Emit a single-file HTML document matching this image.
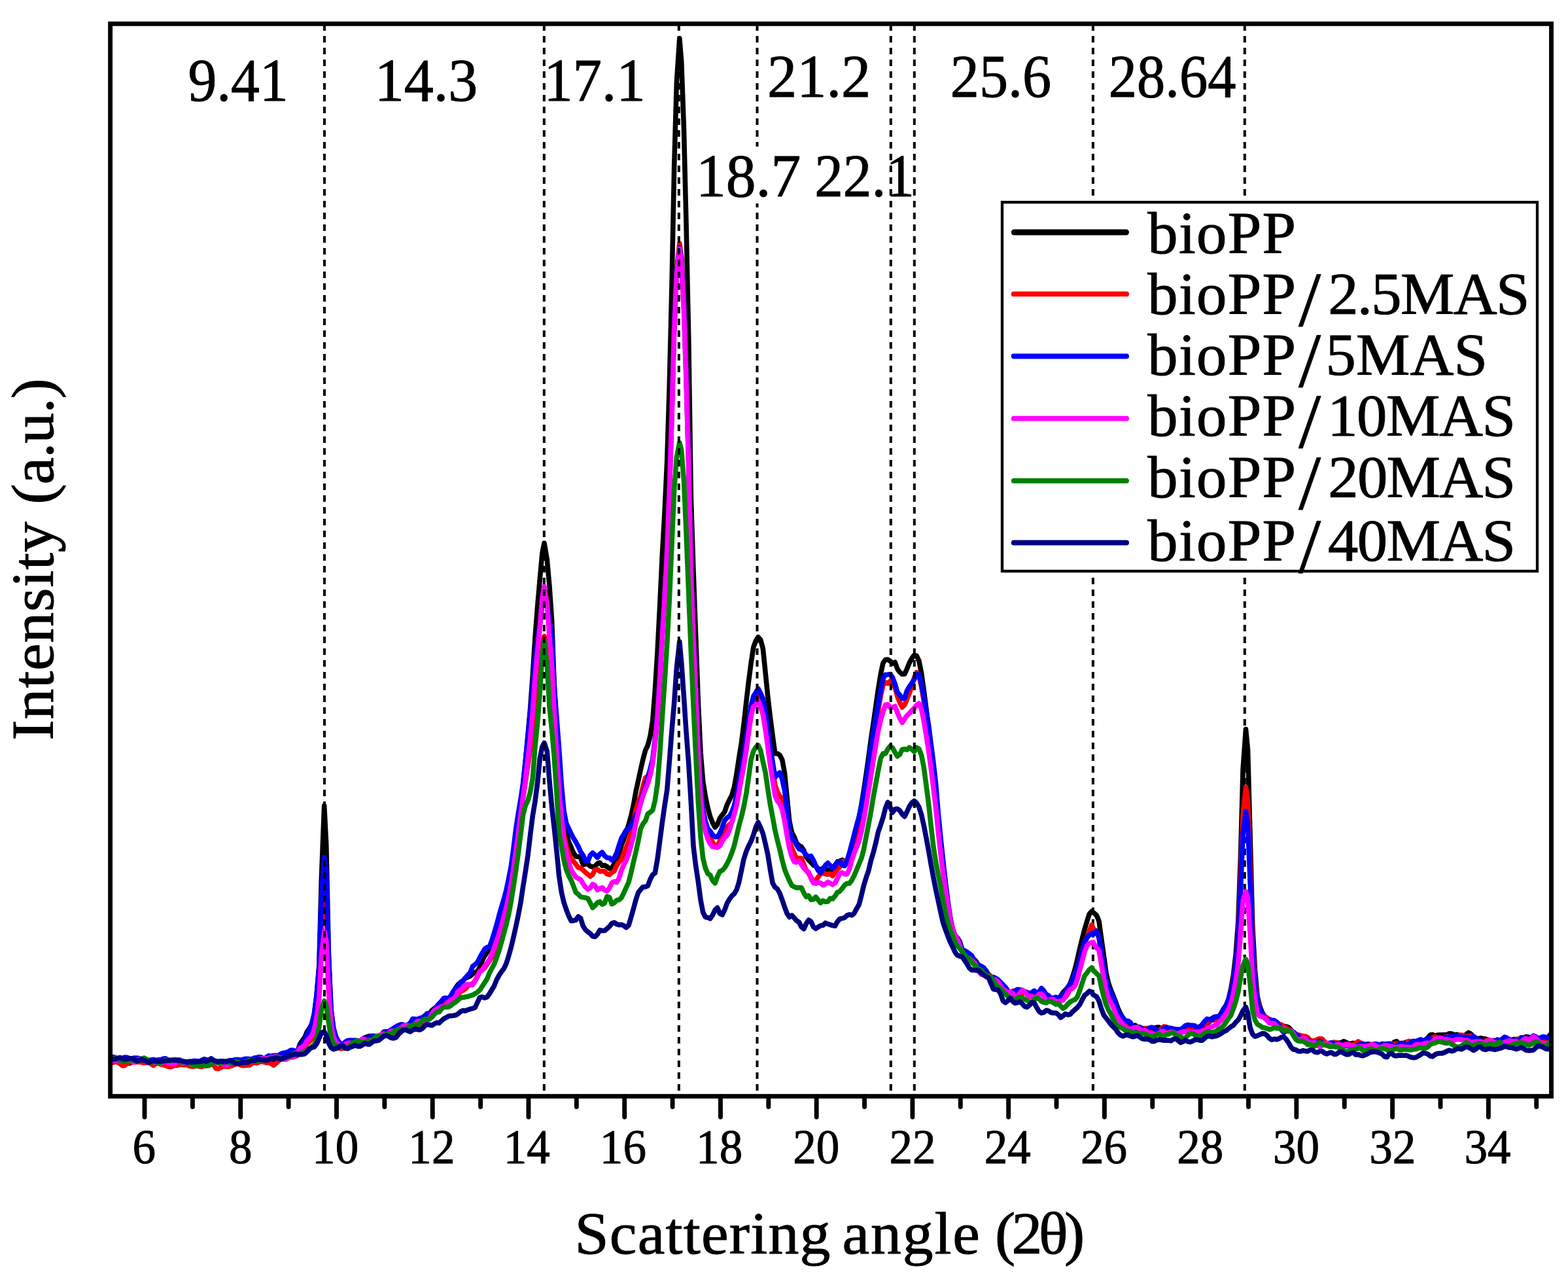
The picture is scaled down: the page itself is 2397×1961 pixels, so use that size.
<!DOCTYPE html>
<html lang="en">
<head>
<meta charset="utf-8">
<title>XRD patterns of bioPP / MAS composites</title>
<style>
html,body{margin:0;padding:0;background:#fff;}
body{width:2397px;height:1961px;overflow:hidden;}
svg{display:block;}
</style>
</head>
<body>
<svg width="2397" height="1961" viewBox="0 0 2397 1961" font-family='"Liberation Serif", "DejaVu Serif", serif' fill="#000">
<rect width="2397" height="1961" fill="#fff"/>
<g id="peak-guides-back" stroke="#000" stroke-width="4" stroke-dasharray="10 8" fill="none">
<line x1="1670.9" y1="37" x2="1670.9" y2="1675.6"/>
<line x1="1902.8" y1="37" x2="1902.8" y2="1675.6"/>
</g>
<g id="curves" fill="none" stroke-width="7.6" stroke-linejoin="round" stroke-linecap="butt">
<polyline stroke="#000000" points="168.6,1621.6 172.3,1619.7 175.9,1617.7 179.6,1618.9 183.3,1621.1 186.9,1621.2 190.6,1621.9 194.3,1624.7 197.9,1625.2 201.6,1623.6 205.3,1622.6 209.0,1618.6 212.6,1618.2 216.3,1621.5 220.0,1622.6 223.6,1623.4 227.3,1623.7 231.0,1623.5 234.6,1624.0 238.3,1623.0 242.0,1621.7 245.6,1623.3 249.3,1625.4 253.0,1626.1 256.6,1623.9 260.3,1623.7 264.0,1624.1 267.6,1625.6 271.3,1627.5 275.0,1626.6 278.7,1625.3 282.3,1626.0 286.0,1626.2 289.7,1624.9 293.3,1626.0 297.0,1628.5 300.7,1628.1 304.3,1626.3 308.0,1625.1 311.7,1624.5 315.3,1624.2 319.0,1626.4 322.7,1626.7 326.3,1625.3 330.0,1623.5 333.7,1624.0 337.4,1625.7 341.0,1625.6 344.7,1625.1 348.4,1626.0 352.0,1626.1 355.7,1624.0 359.4,1622.8 363.0,1622.0 366.7,1622.3 370.4,1624.2 374.0,1624.5 377.7,1622.8 381.4,1620.3 385.0,1619.7 388.7,1620.4 392.4,1620.3 396.0,1620.0 399.7,1619.6 403.4,1621.3 407.1,1623.0 410.7,1622.9 414.4,1621.4 418.1,1619.1 421.7,1617.9 425.4,1616.6 429.1,1616.0 432.7,1614.2 436.4,1612.6 440.1,1612.6 443.7,1613.4 447.4,1612.5 451.1,1610.0 454.7,1607.1 458.4,1596.2 462.1,1590.6 465.7,1585.9 469.4,1577.0 473.1,1571.8 476.8,1564.7 480.4,1549.5 484.1,1521.8 487.8,1476.4 491.4,1341.9 495.7,1231.5 498.8,1292.3 502.4,1458.7 506.1,1544.7 509.8,1573.2 513.4,1587.0 517.1,1593.7 520.8,1596.4 524.4,1598.0 528.1,1596.7 531.8,1596.8 535.4,1598.4 539.1,1596.4 542.8,1591.4 546.5,1591.2 550.1,1591.8 553.8,1588.3 557.5,1586.1 561.1,1584.7 564.8,1583.6 568.5,1584.0 572.1,1586.3 575.8,1588.2 579.5,1587.0 583.1,1581.8 586.8,1577.1 590.5,1576.9 594.1,1576.7 597.8,1575.8 601.5,1572.8 605.2,1569.6 608.8,1569.0 612.5,1566.1 616.2,1566.4 619.8,1568.2 623.5,1568.7 627.2,1566.5 630.8,1560.9 634.5,1561.2 638.2,1561.2 641.8,1558.5 645.5,1556.0 649.2,1552.7 652.8,1552.2 656.5,1549.6 660.2,1544.4 663.8,1541.4 667.5,1539.5 671.2,1537.6 674.9,1537.0 678.5,1534.7 682.2,1532.8 685.9,1528.9 689.5,1522.2 693.2,1515.6 696.9,1509.4 700.5,1504.5 704.2,1501.3 707.9,1498.9 711.5,1495.0 715.2,1493.7 718.9,1491.9 722.5,1488.3 726.2,1486.3 729.9,1484.7 733.5,1478.4 737.2,1468.1 740.9,1461.0 744.6,1455.6 748.2,1451.2 751.9,1446.7 755.6,1437.3 759.2,1426.2 762.9,1412.9 766.6,1396.6 770.2,1382.6 773.9,1370.1 777.6,1355.6 781.2,1336.0 784.9,1310.9 788.6,1283.4 792.2,1257.1 795.9,1230.1 799.6,1199.4 803.3,1163.4 806.9,1125.5 810.6,1083.2 814.3,1032.8 817.9,975.5 821.6,927.7 825.3,885.1 828.9,845.5 832.0,830.0 836.3,855.2 839.9,895.2 843.6,948.4 847.3,1047.7 850.9,1107.4 854.6,1161.4 858.3,1214.5 861.9,1252.2 865.6,1272.7 869.3,1286.7 873.0,1294.7 876.6,1303.4 880.3,1309.1 884.0,1309.3 887.6,1311.0 891.3,1321.4 895.0,1320.9 898.6,1320.3 902.3,1324.0 906.0,1325.0 909.6,1323.8 913.3,1319.9 917.0,1318.5 920.6,1323.2 924.3,1322.6 928.0,1324.6 931.6,1327.6 935.3,1326.8 939.0,1320.3 942.7,1314.1 946.3,1304.1 950.0,1291.5 953.7,1282.3 957.3,1272.3 961.0,1260.6 964.7,1247.3 968.3,1230.9 972.0,1210.1 975.7,1193.2 979.3,1176.5 983.0,1160.4 986.7,1146.6 990.3,1139.3 994.0,1125.0 997.7,1101.5 1001.3,1055.8 1005.0,997.1 1008.7,924.7 1012.4,847.3 1016.0,783.6 1019.7,704.7 1023.4,584.6 1027.0,435.8 1030.7,253.2 1034.4,125.2 1038.8,58.5 1041.7,93.7 1045.4,195.1 1049.0,341.8 1052.7,516.2 1056.4,761.8 1060.0,871.8 1063.7,973.6 1067.4,1073.7 1071.1,1150.7 1074.7,1194.8 1078.4,1217.5 1082.1,1235.2 1085.7,1248.4 1089.4,1257.6 1093.1,1264.4 1096.7,1260.2 1100.4,1250.7 1104.1,1245.6 1107.7,1241.0 1111.4,1230.2 1115.1,1222.6 1118.7,1215.7 1122.4,1203.2 1126.1,1182.5 1129.7,1158.2 1133.4,1135.5 1137.1,1106.4 1140.8,1072.8 1144.4,1042.0 1148.1,1013.7 1151.8,989.3 1155.4,979.4 1159.0,973.7 1162.8,978.1 1166.4,991.8 1170.1,1027.9 1173.8,1065.2 1177.4,1095.7 1181.1,1124.3 1184.8,1151.8 1188.4,1151.7 1192.1,1154.1 1195.8,1161.5 1199.4,1180.9 1203.1,1217.9 1206.8,1255.3 1210.5,1272.6 1214.1,1279.0 1217.8,1288.7 1221.5,1292.4 1225.1,1294.2 1228.8,1299.9 1232.5,1309.6 1236.1,1314.6 1239.8,1318.3 1243.5,1322.4 1247.1,1324.2 1250.8,1328.0 1254.5,1329.9 1258.1,1326.8 1261.8,1327.6 1265.5,1329.9 1269.1,1331.7 1272.8,1328.7 1276.5,1322.4 1280.2,1317.5 1283.8,1316.0 1287.5,1314.4 1291.2,1317.1 1294.8,1316.5 1298.5,1308.1 1302.2,1293.1 1305.8,1277.9 1309.5,1264.3 1313.2,1249.7 1316.8,1230.3 1320.5,1207.5 1324.2,1182.7 1327.8,1157.6 1331.5,1129.7 1335.2,1104.7 1338.9,1079.0 1342.5,1053.8 1346.2,1030.9 1349.9,1013.4 1353.5,1008.3 1357.2,1008.1 1360.9,1010.4 1364.5,1014.1 1368.2,1012.2 1371.9,1022.5 1375.5,1027.4 1379.2,1030.5 1382.9,1030.3 1386.5,1022.2 1390.2,1013.1 1393.9,1006.2 1397.5,1001.4 1401.2,1002.5 1404.9,1010.2 1408.6,1029.1 1412.2,1054.2 1415.9,1083.3 1419.6,1117.2 1423.2,1152.1 1426.9,1188.1 1430.6,1226.5 1434.2,1263.9 1437.9,1296.5 1441.6,1325.2 1445.2,1353.3 1448.9,1379.7 1452.6,1403.8 1456.2,1420.9 1459.9,1429.2 1463.6,1433.4 1467.2,1439.3 1470.9,1451.0 1474.6,1459.9 1478.3,1462.6 1481.9,1464.6 1485.6,1463.9 1489.3,1466.5 1492.9,1470.2 1496.6,1477.0 1500.3,1480.9 1503.9,1480.7 1507.6,1483.7 1511.3,1490.8 1514.9,1498.4 1518.6,1498.4 1522.3,1499.5 1525.9,1503.6 1529.6,1507.6 1533.3,1509.3 1537.0,1509.8 1540.6,1514.6 1544.3,1520.5 1548.0,1519.5 1551.6,1516.0 1555.3,1514.1 1559.0,1515.7 1562.6,1516.0 1566.3,1515.6 1570.0,1516.8 1573.6,1518.2 1577.3,1521.0 1581.0,1522.0 1584.6,1520.8 1588.3,1518.8 1592.0,1514.7 1595.6,1515.6 1599.3,1521.3 1603.0,1525.4 1606.7,1528.7 1610.3,1529.1 1614.0,1527.7 1617.7,1526.4 1621.3,1522.7 1625.0,1517.0 1628.7,1513.2 1632.3,1509.3 1636.0,1503.2 1639.7,1492.8 1643.3,1481.1 1647.0,1466.1 1650.7,1449.6 1654.3,1435.0 1658.0,1420.6 1661.7,1408.1 1665.3,1397.0 1669.0,1392.9 1671.0,1394.2 1676.4,1399.1 1680.0,1407.8 1683.7,1434.8 1687.4,1461.1 1691.0,1487.4 1694.7,1503.3 1698.4,1513.8 1702.0,1522.1 1705.7,1532.0 1709.4,1542.1 1713.0,1549.6 1716.7,1556.0 1720.4,1560.2 1724.0,1564.3 1727.7,1568.1 1731.4,1569.5 1735.0,1567.1 1738.7,1569.2 1742.4,1572.9 1746.1,1573.3 1749.7,1571.7 1753.4,1571.7 1757.1,1572.5 1760.7,1572.6 1764.4,1571.4 1768.1,1570.4 1771.7,1570.1 1775.4,1572.4 1779.1,1574.5 1782.7,1573.4 1786.4,1575.9 1790.1,1577.8 1793.7,1577.0 1797.4,1577.5 1801.1,1575.7 1804.8,1575.3 1808.4,1572.5 1812.1,1570.4 1815.8,1573.5 1819.4,1575.9 1823.1,1573.8 1826.8,1572.7 1830.4,1570.7 1834.1,1569.0 1837.8,1568.0 1841.4,1565.3 1845.1,1564.0 1848.8,1562.0 1852.4,1556.8 1856.1,1554.7 1859.8,1556.0 1863.4,1555.5 1867.1,1548.3 1870.8,1541.4 1874.5,1536.2 1878.1,1527.6 1881.8,1510.8 1885.5,1489.8 1889.1,1459.3 1892.8,1409.2 1896.5,1310.1 1900.1,1175.5 1904.5,1114.5 1907.5,1145.8 1911.1,1276.5 1914.8,1416.3 1918.5,1482.9 1922.1,1522.8 1925.8,1537.9 1929.5,1547.7 1933.1,1553.2 1936.8,1556.6 1940.5,1558.3 1944.2,1560.1 1947.8,1561.9 1951.5,1562.1 1955.2,1565.1 1958.8,1568.4 1962.5,1568.4 1966.2,1569.0 1969.8,1570.3 1973.5,1573.9 1977.2,1579.9 1980.8,1582.8 1984.5,1585.7 1988.2,1586.3 1991.8,1585.8 1995.5,1586.6 1999.2,1588.6 2002.8,1590.4 2006.5,1591.7 2010.2,1591.2 2013.9,1592.4 2017.5,1593.3 2021.2,1592.8 2024.9,1593.2 2028.5,1594.6 2032.2,1594.9 2035.9,1594.1 2039.5,1593.5 2043.2,1593.6 2046.9,1594.5 2050.5,1593.3 2054.2,1591.6 2057.9,1593.3 2061.5,1595.5 2065.2,1595.0 2068.9,1594.2 2072.6,1595.9 2076.2,1597.0 2079.9,1597.6 2083.6,1597.9 2087.2,1596.2 2090.9,1595.9 2094.6,1596.1 2098.2,1597.7 2101.9,1598.5 2105.6,1597.8 2109.2,1596.8 2112.9,1595.5 2116.6,1595.7 2120.2,1596.2 2123.9,1599.6 2127.6,1598.3 2131.2,1592.8 2134.9,1591.5 2138.6,1595.3 2142.3,1595.2 2145.9,1594.4 2149.6,1592.8 2153.3,1592.7 2156.9,1592.7 2160.6,1593.2 2164.3,1593.1 2167.9,1593.2 2171.6,1591.3 2175.3,1591.0 2178.9,1589.2 2182.6,1586.3 2186.3,1582.0 2189.9,1581.2 2193.6,1583.4 2197.3,1582.1 2200.9,1581.8 2204.6,1581.9 2208.3,1581.5 2212.0,1581.6 2215.6,1579.7 2219.3,1580.0 2223.0,1581.9 2226.6,1581.1 2230.3,1582.0 2234.0,1583.2 2237.6,1583.6 2241.3,1581.1 2245.0,1578.4 2248.6,1580.3 2252.3,1584.1 2256.0,1587.6 2259.6,1587.5 2263.3,1586.6 2267.0,1587.5 2270.7,1587.9 2274.3,1589.2 2278.0,1590.3 2281.7,1591.5 2285.3,1591.6 2289.0,1591.7 2292.7,1591.2 2296.3,1591.2 2300.0,1590.8 2303.7,1591.2 2307.3,1590.6 2311.0,1589.3 2314.7,1588.5 2318.3,1588.6 2322.0,1587.8 2325.7,1585.9 2329.3,1586.8 2333.0,1584.4 2336.7,1585.0 2340.4,1586.6 2344.0,1587.7 2347.7,1587.1 2351.4,1586.2 2355.0,1586.8 2358.7,1589.2 2362.4,1590.4 2366.0,1586.1 2369.7,1581.6 2371.5,1583.3"/>
<polyline stroke="#ff0000" points="168.6,1623.9 172.3,1624.1 175.9,1622.7 179.6,1623.7 183.3,1625.5 186.9,1628.7 190.6,1628.6 194.3,1625.7 197.9,1623.4 201.6,1623.1 205.3,1623.4 209.0,1623.3 212.6,1623.1 216.3,1623.7 220.0,1624.4 223.6,1624.4 227.3,1624.3 231.0,1626.1 234.6,1628.5 238.3,1625.7 242.0,1625.1 245.6,1627.0 249.3,1627.5 253.0,1628.6 256.6,1630.1 260.3,1630.8 264.0,1629.6 267.6,1628.2 271.3,1628.4 275.0,1626.9 278.7,1627.4 282.3,1627.6 286.0,1627.8 289.7,1629.4 293.3,1630.1 297.0,1629.9 300.7,1628.6 304.3,1630.1 308.0,1630.6 311.7,1629.1 315.3,1627.3 319.0,1627.0 322.7,1625.7 326.3,1627.4 330.0,1633.0 333.7,1633.4 337.4,1632.0 341.0,1629.9 344.7,1630.0 348.4,1630.3 352.0,1629.7 355.7,1628.4 359.4,1626.5 363.0,1625.2 366.7,1627.4 370.4,1628.8 374.0,1628.7 377.7,1627.9 381.4,1628.1 385.0,1625.4 388.7,1623.9 392.4,1625.0 396.0,1623.5 399.7,1622.2 403.4,1623.4 407.1,1624.4 410.7,1624.0 414.4,1625.7 418.1,1628.2 421.7,1625.6 425.4,1622.0 429.1,1618.2 432.7,1618.8 436.4,1619.3 440.1,1617.3 443.7,1615.9 447.4,1615.9 451.1,1614.5 454.7,1613.4 458.4,1609.4 462.1,1606.9 465.7,1601.3 469.4,1595.2 473.1,1592.1 476.8,1587.2 480.4,1575.3 484.1,1552.5 487.8,1515.9 491.4,1418.7 495.7,1333.0 498.8,1382.1 502.4,1500.1 506.1,1563.0 509.8,1584.8 513.4,1594.3 517.1,1601.4 520.8,1602.6 524.4,1602.2 528.1,1601.6 531.8,1598.6 535.4,1596.0 539.1,1595.9 542.8,1597.1 546.5,1598.7 550.1,1596.8 553.8,1593.7 557.5,1594.1 561.1,1593.2 564.8,1590.0 568.5,1588.0 572.1,1586.3 575.8,1587.0 579.5,1585.5 583.1,1582.6 586.8,1582.1 590.5,1582.2 594.1,1580.8 597.8,1580.4 601.5,1578.9 605.2,1576.0 608.8,1576.4 612.5,1578.2 616.2,1574.5 619.8,1570.6 623.5,1568.9 627.2,1567.6 630.8,1569.0 634.5,1568.5 638.2,1567.5 641.8,1565.5 645.5,1562.9 649.2,1560.8 652.8,1556.9 656.5,1552.1 660.2,1548.6 663.8,1545.4 667.5,1542.9 671.2,1544.0 674.9,1539.3 678.5,1535.7 682.2,1531.0 685.9,1527.4 689.5,1527.2 693.2,1525.4 696.9,1522.7 700.5,1519.9 704.2,1515.7 707.9,1513.7 711.5,1511.2 715.2,1507.0 718.9,1504.7 722.5,1503.3 726.2,1499.5 729.9,1492.6 733.5,1484.6 737.2,1482.3 740.9,1479.3 744.6,1473.6 748.2,1468.8 751.9,1463.0 755.6,1452.2 759.2,1439.8 762.9,1425.7 766.6,1412.2 770.2,1399.2 773.9,1384.9 777.6,1369.4 781.2,1350.3 784.9,1326.2 788.6,1298.3 792.2,1272.2 795.9,1247.1 799.6,1219.6 803.3,1194.4 806.9,1169.9 810.6,1145.2 814.3,1113.6 817.9,1075.7 821.6,1049.9 825.3,1021.0 828.9,982.6 832.0,972.5 836.3,989.0 839.9,1031.9 843.6,1058.6 847.3,1109.4 850.9,1156.9 854.6,1209.7 858.3,1246.3 861.9,1276.1 865.6,1293.5 869.3,1303.3 873.0,1313.5 876.6,1316.5 880.3,1320.8 884.0,1326.2 887.6,1326.7 891.3,1329.7 895.0,1333.5 898.6,1336.2 902.3,1339.5 906.0,1336.6 909.6,1329.3 913.3,1328.7 917.0,1332.0 920.6,1331.8 924.3,1331.7 928.0,1335.9 931.6,1336.9 935.3,1333.6 939.0,1331.2 942.7,1323.1 946.3,1317.7 950.0,1313.6 953.7,1304.8 957.3,1295.4 961.0,1285.9 964.7,1273.7 968.3,1258.7 972.0,1238.3 975.7,1225.9 979.3,1217.3 983.0,1201.8 986.7,1188.7 990.3,1186.4 994.0,1178.6 997.7,1162.9 1001.3,1131.2 1005.0,1089.6 1008.7,1032.9 1012.4,966.0 1016.0,906.9 1019.7,839.8 1023.4,745.1 1027.0,630.8 1030.7,498.1 1034.4,412.9 1038.8,372.1 1041.7,393.1 1045.4,461.1 1049.0,571.7 1052.7,704.4 1056.4,875.7 1060.0,970.6 1063.7,1059.6 1067.4,1146.1 1071.1,1212.3 1074.7,1248.6 1078.4,1265.0 1082.1,1275.9 1085.7,1280.5 1089.4,1287.4 1093.1,1294.3 1096.7,1291.9 1100.4,1285.8 1104.1,1274.0 1107.7,1267.0 1111.4,1264.6 1115.1,1260.3 1118.7,1257.2 1122.4,1243.2 1126.1,1222.6 1129.7,1203.9 1133.4,1185.3 1137.1,1164.8 1140.8,1140.0 1144.4,1116.6 1148.1,1092.4 1151.8,1073.6 1155.4,1064.3 1159.0,1064.0 1162.8,1070.7 1166.4,1081.7 1170.1,1103.3 1173.8,1131.2 1177.4,1155.4 1181.1,1176.8 1184.8,1199.8 1188.4,1210.2 1192.1,1217.4 1195.8,1220.1 1199.4,1232.3 1203.1,1259.4 1206.8,1285.0 1210.5,1295.9 1214.1,1304.9 1217.8,1312.8 1221.5,1311.5 1225.1,1311.9 1228.8,1321.3 1232.5,1330.4 1236.1,1334.8 1239.8,1341.0 1243.5,1347.3 1247.1,1346.2 1250.8,1340.3 1254.5,1335.6 1258.1,1334.7 1261.8,1335.7 1265.5,1336.5 1269.1,1335.5 1272.8,1338.7 1276.5,1333.6 1280.2,1328.3 1283.8,1325.1 1287.5,1316.9 1291.2,1316.5 1294.8,1320.2 1298.5,1317.0 1302.2,1306.0 1305.8,1294.7 1309.5,1280.2 1313.2,1264.7 1316.8,1247.9 1320.5,1229.6 1324.2,1207.1 1327.8,1183.6 1331.5,1157.3 1335.2,1130.5 1338.9,1107.9 1342.5,1086.5 1346.2,1064.4 1349.9,1047.1 1353.5,1042.7 1357.2,1044.8 1360.9,1040.9 1364.5,1043.7 1368.2,1051.0 1371.9,1064.6 1375.5,1073.8 1379.2,1081.0 1382.9,1077.4 1386.5,1068.4 1390.2,1059.7 1393.9,1048.0 1397.5,1036.3 1401.2,1027.7 1404.9,1033.2 1408.6,1049.9 1412.2,1070.8 1415.9,1094.9 1419.6,1121.3 1423.2,1150.2 1426.9,1182.3 1430.6,1215.2 1434.2,1253.8 1437.9,1290.6 1441.6,1323.8 1445.2,1354.6 1448.9,1383.5 1452.6,1408.2 1456.2,1422.1 1459.9,1431.0 1463.6,1439.0 1467.2,1446.4 1470.9,1451.5 1474.6,1454.1 1478.3,1458.6 1481.9,1463.5 1485.6,1466.3 1489.3,1469.6 1492.9,1474.2 1496.6,1480.2 1500.3,1483.3 1503.9,1489.4 1507.6,1489.5 1511.3,1488.9 1514.9,1492.9 1518.6,1500.4 1522.3,1504.1 1525.9,1505.1 1529.6,1509.6 1533.3,1513.3 1537.0,1515.9 1540.6,1519.3 1544.3,1519.7 1548.0,1514.7 1551.6,1514.2 1555.3,1519.1 1559.0,1521.0 1562.6,1519.5 1566.3,1515.3 1570.0,1517.3 1573.6,1523.3 1577.3,1522.7 1581.0,1521.6 1584.6,1519.1 1588.3,1516.6 1592.0,1516.5 1595.6,1520.7 1599.3,1520.7 1603.0,1521.6 1606.7,1526.2 1610.3,1531.6 1614.0,1532.1 1617.7,1530.6 1621.3,1528.1 1625.0,1526.2 1628.7,1523.8 1632.3,1519.3 1636.0,1510.2 1639.7,1501.1 1643.3,1494.7 1647.0,1483.6 1650.7,1467.3 1654.3,1452.9 1658.0,1439.9 1661.7,1432.6 1665.3,1423.4 1669.0,1413.5 1671.0,1419.0 1676.4,1424.2 1680.0,1434.1 1683.7,1457.2 1687.4,1478.8 1691.0,1499.8 1694.7,1512.6 1698.4,1522.2 1702.0,1530.8 1705.7,1539.8 1709.4,1549.3 1713.0,1554.4 1716.7,1559.3 1720.4,1566.4 1724.0,1570.7 1727.7,1571.0 1731.4,1572.2 1735.0,1570.4 1738.7,1572.0 1742.4,1572.6 1746.1,1572.4 1749.7,1571.7 1753.4,1572.2 1757.1,1573.2 1760.7,1574.3 1764.4,1577.1 1768.1,1578.8 1771.7,1575.2 1775.4,1572.3 1779.1,1569.1 1782.7,1569.5 1786.4,1573.7 1790.1,1572.4 1793.7,1572.2 1797.4,1574.5 1801.1,1576.5 1804.8,1577.3 1808.4,1577.8 1812.1,1574.1 1815.8,1571.2 1819.4,1573.5 1823.1,1574.4 1826.8,1573.4 1830.4,1573.2 1834.1,1573.2 1837.8,1572.5 1841.4,1566.8 1845.1,1562.3 1848.8,1561.0 1852.4,1558.7 1856.1,1559.6 1859.8,1558.1 1863.4,1553.4 1867.1,1549.1 1870.8,1545.3 1874.5,1540.8 1878.1,1530.5 1881.8,1514.9 1885.5,1497.0 1889.1,1471.5 1892.8,1428.8 1896.5,1347.5 1900.1,1245.8 1904.5,1203.2 1907.5,1224.4 1911.1,1326.2 1914.8,1442.5 1918.5,1496.1 1922.1,1528.1 1925.8,1542.0 1929.5,1549.9 1933.1,1553.1 1936.8,1555.5 1940.5,1558.8 1944.2,1563.1 1947.8,1562.4 1951.5,1563.7 1955.2,1565.5 1958.8,1566.2 1962.5,1568.6 1966.2,1570.9 1969.8,1573.6 1973.5,1576.4 1977.2,1579.5 1980.8,1581.5 1984.5,1581.8 1988.2,1582.6 1991.8,1583.6 1995.5,1584.1 1999.2,1585.7 2002.8,1589.7 2006.5,1591.3 2010.2,1590.5 2013.9,1588.5 2017.5,1587.5 2021.2,1588.1 2024.9,1592.2 2028.5,1595.4 2032.2,1595.7 2035.9,1594.1 2039.5,1593.0 2043.2,1594.2 2046.9,1595.7 2050.5,1597.1 2054.2,1597.1 2057.9,1595.8 2061.5,1596.1 2065.2,1597.3 2068.9,1596.9 2072.6,1594.4 2076.2,1591.9 2079.9,1594.0 2083.6,1597.1 2087.2,1597.8 2090.9,1597.9 2094.6,1596.8 2098.2,1597.2 2101.9,1598.6 2105.6,1598.9 2109.2,1599.1 2112.9,1600.3 2116.6,1601.2 2120.2,1599.4 2123.9,1595.5 2127.6,1595.3 2131.2,1596.1 2134.9,1595.4 2138.6,1595.2 2142.3,1597.1 2145.9,1595.7 2149.6,1593.8 2153.3,1591.3 2156.9,1592.2 2160.6,1592.9 2164.3,1592.9 2167.9,1595.6 2171.6,1596.1 2175.3,1591.2 2178.9,1589.5 2182.6,1591.6 2186.3,1589.7 2189.9,1585.9 2193.6,1584.4 2197.3,1586.4 2200.9,1587.7 2204.6,1587.8 2208.3,1585.1 2212.0,1584.4 2215.6,1584.6 2219.3,1585.3 2223.0,1586.7 2226.6,1585.6 2230.3,1582.7 2234.0,1582.0 2237.6,1582.8 2241.3,1584.2 2245.0,1583.5 2248.6,1583.0 2252.3,1585.1 2256.0,1588.0 2259.6,1590.8 2263.3,1592.6 2267.0,1592.7 2270.7,1591.0 2274.3,1590.0 2278.0,1590.8 2281.7,1590.4 2285.3,1590.2 2289.0,1591.7 2292.7,1593.0 2296.3,1592.6 2300.0,1589.5 2303.7,1588.4 2307.3,1590.3 2311.0,1590.6 2314.7,1591.2 2318.3,1589.2 2322.0,1587.7 2325.7,1588.4 2329.3,1591.7 2333.0,1590.2 2336.7,1588.4 2340.4,1587.7 2344.0,1588.2 2347.7,1589.4 2351.4,1588.8 2355.0,1588.7 2358.7,1588.6 2362.4,1587.0 2366.0,1589.3 2369.7,1589.6 2371.5,1586.1"/>
<polyline stroke="#0000ff" points="168.6,1618.3 172.3,1615.5 175.9,1616.2 179.6,1618.3 183.3,1619.1 186.9,1617.6 190.6,1616.1 194.3,1616.3 197.9,1617.9 201.6,1617.9 205.3,1617.0 209.0,1617.0 212.6,1617.7 216.3,1618.5 220.0,1618.3 223.6,1619.5 227.3,1620.7 231.0,1620.0 234.6,1619.4 238.3,1620.6 242.0,1619.9 245.6,1619.7 249.3,1618.3 253.0,1617.7 256.6,1619.9 260.3,1621.2 264.0,1621.2 267.6,1621.0 271.3,1620.1 275.0,1620.1 278.7,1622.2 282.3,1624.8 286.0,1624.0 289.7,1622.3 293.3,1622.3 297.0,1621.5 300.7,1621.7 304.3,1622.5 308.0,1620.7 311.7,1618.8 315.3,1619.7 319.0,1621.5 322.7,1622.8 326.3,1623.1 330.0,1621.9 333.7,1622.4 337.4,1622.4 341.0,1622.0 344.7,1622.5 348.4,1621.8 352.0,1620.7 355.7,1620.9 359.4,1619.5 363.0,1619.6 366.7,1620.1 370.4,1619.7 374.0,1618.5 377.7,1618.3 381.4,1618.8 385.0,1618.8 388.7,1617.1 392.4,1616.5 396.0,1615.6 399.7,1616.0 403.4,1618.6 407.1,1616.0 410.7,1613.6 414.4,1614.6 418.1,1613.2 421.7,1613.4 425.4,1613.3 429.1,1610.9 432.7,1609.5 436.4,1609.0 440.1,1607.9 443.7,1605.6 447.4,1605.0 451.1,1606.4 454.7,1606.7 458.4,1599.4 462.1,1596.1 465.7,1589.7 469.4,1581.1 473.1,1574.0 476.8,1565.3 480.4,1550.0 484.1,1519.9 487.8,1479.2 491.4,1371.0 495.7,1310.0 498.8,1335.2 502.4,1463.9 506.1,1542.6 509.8,1571.0 513.4,1584.3 517.1,1591.0 520.8,1595.9 524.4,1595.5 528.1,1592.3 531.8,1590.3 535.4,1590.0 539.1,1590.2 542.8,1590.1 546.5,1590.5 550.1,1591.2 553.8,1591.5 557.5,1589.9 561.1,1587.1 564.8,1585.4 568.5,1583.4 572.1,1583.2 575.8,1584.6 579.5,1582.9 583.1,1582.2 586.8,1578.8 590.5,1577.1 594.1,1576.5 597.8,1573.9 601.5,1571.7 605.2,1569.3 608.8,1567.3 612.5,1566.2 616.2,1566.3 619.8,1567.7 623.5,1566.3 627.2,1563.5 630.8,1557.3 634.5,1557.5 638.2,1558.0 641.8,1556.2 645.5,1555.6 649.2,1552.8 652.8,1549.1 656.5,1549.1 660.2,1549.6 663.8,1543.9 667.5,1538.3 671.2,1534.0 674.9,1530.1 678.5,1525.5 682.2,1525.4 685.9,1526.4 689.5,1521.2 693.2,1514.9 696.9,1510.9 700.5,1507.0 704.2,1502.1 707.9,1499.3 711.5,1494.6 715.2,1490.4 718.9,1486.3 722.5,1477.1 726.2,1474.3 729.9,1470.9 733.5,1463.6 737.2,1456.9 740.9,1450.6 744.6,1447.9 748.2,1447.1 751.9,1437.5 755.6,1425.6 759.2,1413.7 762.9,1399.4 766.6,1386.5 770.2,1374.4 773.9,1360.7 777.6,1342.9 781.2,1324.8 784.9,1297.7 788.6,1267.4 792.2,1243.8 795.9,1222.0 799.6,1197.8 803.3,1162.9 806.9,1125.0 810.6,1088.5 814.3,1048.1 817.9,1005.6 821.6,979.1 825.3,954.7 828.9,925.4 832.0,920.0 836.3,925.9 839.9,947.7 843.6,975.4 847.3,1051.1 850.9,1096.2 854.6,1144.6 858.3,1199.2 861.9,1238.4 865.6,1258.3 869.3,1266.2 873.0,1274.0 876.6,1280.9 880.3,1287.0 884.0,1293.8 887.6,1301.8 891.3,1307.2 895.0,1316.5 898.6,1316.5 902.3,1307.4 906.0,1303.5 909.6,1306.7 913.3,1310.8 917.0,1305.3 920.6,1302.7 924.3,1308.2 928.0,1311.0 931.6,1311.2 935.3,1314.7 939.0,1311.3 942.7,1303.8 946.3,1292.2 950.0,1281.1 953.7,1275.2 957.3,1268.7 961.0,1267.4 964.7,1261.0 968.3,1254.9 972.0,1246.0 975.7,1241.5 979.3,1225.2 983.0,1212.9 986.7,1202.6 990.3,1188.6 994.0,1175.0 997.7,1160.7 1001.3,1131.5 1005.0,1090.7 1008.7,1033.2 1012.4,966.8 1016.0,908.1 1019.7,841.7 1023.4,748.1 1027.0,631.2 1030.7,497.8 1034.4,414.6 1038.8,378.0 1041.7,396.7 1045.4,463.4 1049.0,573.0 1052.7,703.8 1056.4,876.2 1060.0,972.3 1063.7,1059.0 1067.4,1143.2 1071.1,1207.0 1074.7,1238.0 1078.4,1255.5 1082.1,1267.2 1085.7,1270.4 1089.4,1276.1 1093.1,1279.2 1096.7,1278.9 1100.4,1273.5 1104.1,1264.6 1107.7,1254.2 1111.4,1249.9 1115.1,1247.4 1118.7,1241.6 1122.4,1231.2 1126.1,1215.4 1129.7,1194.4 1133.4,1174.5 1137.1,1153.2 1140.8,1127.3 1144.4,1102.6 1148.1,1078.7 1151.8,1064.2 1155.4,1058.6 1159.0,1052.5 1162.8,1059.7 1166.4,1068.0 1170.1,1088.3 1173.8,1116.4 1177.4,1140.8 1181.1,1164.4 1184.8,1188.2 1188.4,1183.6 1192.1,1180.9 1195.8,1191.1 1199.4,1207.9 1203.1,1237.5 1206.8,1268.9 1210.5,1280.8 1214.1,1284.0 1217.8,1291.6 1221.5,1297.6 1225.1,1298.8 1228.8,1301.7 1232.5,1306.8 1236.1,1309.3 1239.8,1308.4 1243.5,1314.8 1247.1,1323.3 1250.8,1330.7 1254.5,1333.9 1258.1,1328.8 1261.8,1322.3 1265.5,1319.1 1269.1,1322.8 1272.8,1327.1 1276.5,1324.5 1280.2,1316.8 1283.8,1316.9 1287.5,1321.8 1291.2,1323.4 1294.8,1315.5 1298.5,1303.7 1302.2,1289.7 1305.8,1275.6 1309.5,1261.5 1313.2,1248.4 1316.8,1232.8 1320.5,1213.7 1324.2,1191.9 1327.8,1168.1 1331.5,1143.6 1335.2,1118.2 1338.9,1096.4 1342.5,1076.3 1346.2,1055.5 1349.9,1037.5 1353.5,1031.2 1357.2,1031.1 1360.9,1030.5 1364.5,1035.5 1368.2,1045.3 1371.9,1058.4 1375.5,1062.4 1379.2,1067.7 1382.9,1066.8 1386.5,1055.6 1390.2,1049.5 1393.9,1044.3 1397.5,1038.4 1401.2,1030.6 1404.9,1031.2 1408.6,1044.9 1412.2,1065.1 1415.9,1085.9 1419.6,1108.7 1423.2,1137.1 1426.9,1165.4 1430.6,1198.0 1434.2,1241.4 1437.9,1279.5 1441.6,1314.4 1445.2,1346.7 1448.9,1376.7 1452.6,1401.7 1456.2,1418.7 1459.9,1429.8 1463.6,1435.1 1467.2,1442.1 1470.9,1450.5 1474.6,1453.1 1478.3,1455.0 1481.9,1457.8 1485.6,1460.6 1489.3,1468.0 1492.9,1475.3 1496.6,1475.3 1500.3,1476.9 1503.9,1479.1 1507.6,1484.8 1511.3,1492.6 1514.9,1494.4 1518.6,1493.3 1522.3,1495.1 1525.9,1497.7 1529.6,1501.5 1533.3,1505.1 1537.0,1508.9 1540.6,1514.3 1544.3,1517.4 1548.0,1517.3 1551.6,1514.6 1555.3,1512.2 1559.0,1512.7 1562.6,1513.3 1566.3,1516.1 1570.0,1517.1 1573.6,1518.7 1577.3,1517.1 1581.0,1514.4 1584.6,1517.6 1588.3,1516.3 1592.0,1510.4 1595.6,1514.2 1599.3,1520.1 1603.0,1522.0 1606.7,1526.2 1610.3,1525.2 1614.0,1524.1 1617.7,1526.2 1621.3,1523.2 1625.0,1519.1 1628.7,1515.3 1632.3,1509.3 1636.0,1505.6 1639.7,1496.9 1643.3,1488.3 1647.0,1478.8 1650.7,1466.4 1654.3,1454.0 1658.0,1440.6 1661.7,1433.2 1665.3,1429.0 1669.0,1426.2 1671.0,1428.5 1676.4,1423.1 1680.0,1432.0 1683.7,1456.5 1687.4,1478.7 1691.0,1499.2 1694.7,1510.6 1698.4,1516.5 1702.0,1524.2 1705.7,1535.9 1709.4,1546.3 1713.0,1552.0 1716.7,1556.3 1720.4,1560.5 1724.0,1560.3 1727.7,1562.5 1731.4,1568.8 1735.0,1573.8 1738.7,1572.1 1742.4,1569.9 1746.1,1572.0 1749.7,1573.9 1753.4,1573.7 1757.1,1571.2 1760.7,1570.2 1764.4,1571.9 1768.1,1574.2 1771.7,1577.0 1775.4,1576.5 1779.1,1571.9 1782.7,1570.2 1786.4,1570.9 1790.1,1571.5 1793.7,1572.7 1797.4,1573.1 1801.1,1573.4 1804.8,1573.8 1808.4,1571.0 1812.1,1567.7 1815.8,1566.5 1819.4,1567.1 1823.1,1567.2 1826.8,1568.0 1830.4,1571.4 1834.1,1570.4 1837.8,1566.0 1841.4,1561.1 1845.1,1557.4 1848.8,1558.3 1852.4,1559.2 1856.1,1554.2 1859.8,1553.8 1863.4,1553.4 1867.1,1548.7 1870.8,1542.9 1874.5,1536.4 1878.1,1526.9 1881.8,1515.3 1885.5,1499.0 1889.1,1472.4 1892.8,1432.4 1896.5,1360.7 1900.1,1273.3 1904.5,1240.5 1907.5,1258.5 1911.1,1347.4 1914.8,1453.2 1918.5,1502.9 1922.1,1531.8 1925.8,1542.2 1929.5,1550.1 1933.1,1555.9 1936.8,1558.5 1940.5,1558.1 1944.2,1559.4 1947.8,1559.6 1951.5,1562.2 1955.2,1567.1 1958.8,1573.9 1962.5,1578.0 1966.2,1575.9 1969.8,1575.8 1973.5,1576.8 1977.2,1577.2 1980.8,1580.4 1984.5,1582.9 1988.2,1588.0 1991.8,1590.5 1995.5,1589.5 1999.2,1589.6 2002.8,1592.8 2006.5,1593.3 2010.2,1593.1 2013.9,1592.7 2017.5,1591.2 2021.2,1593.8 2024.9,1596.0 2028.5,1595.6 2032.2,1594.3 2035.9,1593.7 2039.5,1595.4 2043.2,1595.8 2046.9,1595.1 2050.5,1595.2 2054.2,1597.5 2057.9,1598.7 2061.5,1598.2 2065.2,1598.8 2068.9,1600.0 2072.6,1599.8 2076.2,1597.4 2079.9,1595.6 2083.6,1595.3 2087.2,1596.3 2090.9,1597.7 2094.6,1597.8 2098.2,1596.3 2101.9,1595.6 2105.6,1595.8 2109.2,1597.6 2112.9,1597.0 2116.6,1596.5 2120.2,1595.5 2123.9,1595.4 2127.6,1596.7 2131.2,1599.4 2134.9,1598.4 2138.6,1596.0 2142.3,1594.2 2145.9,1594.8 2149.6,1597.1 2153.3,1597.1 2156.9,1592.8 2160.6,1591.4 2164.3,1591.8 2167.9,1590.3 2171.6,1588.8 2175.3,1590.2 2178.9,1589.9 2182.6,1586.8 2186.3,1587.5 2189.9,1589.0 2193.6,1588.1 2197.3,1587.3 2200.9,1589.2 2204.6,1587.1 2208.3,1585.0 2212.0,1585.6 2215.6,1584.8 2219.3,1584.8 2223.0,1583.5 2226.6,1584.0 2230.3,1583.9 2234.0,1585.3 2237.6,1585.4 2241.3,1584.8 2245.0,1585.2 2248.6,1585.5 2252.3,1584.0 2256.0,1586.5 2259.6,1588.7 2263.3,1589.9 2267.0,1592.9 2270.7,1595.7 2274.3,1592.6 2278.0,1591.1 2281.7,1591.4 2285.3,1591.1 2289.0,1588.9 2292.7,1590.7 2296.3,1588.2 2300.0,1585.0 2303.7,1586.3 2307.3,1588.8 2311.0,1590.0 2314.7,1590.4 2318.3,1590.9 2322.0,1589.7 2325.7,1587.4 2329.3,1585.5 2333.0,1588.4 2336.7,1589.6 2340.4,1586.3 2344.0,1583.0 2347.7,1584.6 2351.4,1588.2 2355.0,1586.4 2358.7,1584.5 2362.4,1585.0 2366.0,1586.3 2369.7,1584.9 2371.5,1583.0"/>
<polyline stroke="#ff00ff" points="168.6,1621.2 172.3,1621.4 175.9,1621.1 179.6,1621.1 183.3,1622.0 186.9,1620.8 190.6,1620.0 194.3,1619.9 197.9,1620.3 201.6,1621.6 205.3,1623.6 209.0,1621.7 212.6,1618.8 216.3,1618.9 220.0,1619.9 223.6,1623.0 227.3,1624.2 231.0,1623.0 234.6,1623.1 238.3,1623.3 242.0,1624.6 245.6,1625.6 249.3,1623.4 253.0,1622.3 256.6,1624.4 260.3,1625.6 264.0,1626.2 267.6,1625.8 271.3,1623.2 275.0,1622.3 278.7,1624.8 282.3,1624.3 286.0,1622.7 289.7,1623.7 293.3,1626.3 297.0,1626.6 300.7,1626.6 304.3,1626.4 308.0,1624.3 311.7,1622.9 315.3,1622.7 319.0,1622.9 322.7,1623.5 326.3,1623.7 330.0,1624.2 333.7,1624.3 337.4,1625.0 341.0,1626.6 344.7,1628.0 348.4,1627.8 352.0,1625.8 355.7,1624.5 359.4,1624.2 363.0,1625.8 366.7,1625.9 370.4,1623.9 374.0,1623.4 377.7,1622.4 381.4,1621.8 385.0,1621.6 388.7,1621.3 392.4,1620.9 396.0,1618.5 399.7,1618.0 403.4,1618.2 407.1,1617.7 410.7,1617.5 414.4,1616.1 418.1,1615.7 421.7,1614.8 425.4,1615.7 429.1,1617.7 432.7,1619.3 436.4,1618.6 440.1,1617.2 443.7,1615.7 447.4,1615.3 451.1,1611.9 454.7,1608.5 458.4,1602.0 462.1,1600.4 465.7,1597.5 469.4,1590.8 473.1,1586.8 476.8,1582.6 480.4,1573.6 484.1,1554.5 487.8,1525.9 491.4,1460.3 495.7,1423.4 498.8,1438.5 502.4,1516.0 506.1,1566.3 509.8,1585.0 513.4,1592.3 517.1,1596.3 520.8,1597.8 524.4,1598.2 528.1,1596.0 531.8,1594.0 535.4,1594.1 539.1,1595.4 542.8,1597.0 546.5,1596.1 550.1,1591.6 553.8,1587.8 557.5,1588.6 561.1,1591.7 564.8,1590.0 568.5,1589.8 572.1,1589.7 575.8,1585.7 579.5,1583.1 583.1,1581.0 586.8,1580.0 590.5,1581.4 594.1,1579.8 597.8,1575.7 601.5,1576.0 605.2,1575.0 608.8,1573.6 612.5,1571.4 616.2,1568.1 619.8,1567.1 623.5,1567.7 627.2,1571.4 630.8,1570.9 634.5,1564.9 638.2,1560.8 641.8,1561.2 645.5,1560.4 649.2,1561.4 652.8,1561.0 656.5,1556.7 660.2,1549.6 663.8,1544.4 667.5,1542.2 671.2,1540.4 674.9,1538.5 678.5,1538.9 682.2,1536.2 685.9,1531.2 689.5,1527.6 693.2,1526.5 696.9,1522.6 700.5,1514.9 704.2,1512.5 707.9,1509.6 711.5,1505.8 715.2,1504.4 718.9,1505.4 722.5,1505.4 726.2,1498.9 729.9,1491.2 733.5,1485.7 737.2,1482.6 740.9,1476.6 744.6,1471.7 748.2,1466.7 751.9,1458.4 755.6,1448.4 759.2,1438.5 762.9,1427.9 766.6,1414.9 770.2,1401.7 773.9,1387.3 777.6,1370.5 781.2,1351.7 784.9,1327.8 788.6,1301.9 792.2,1274.2 795.9,1245.1 799.6,1217.9 803.3,1191.4 806.9,1160.8 810.6,1128.7 814.3,1089.2 817.9,1037.0 821.6,997.3 825.3,958.6 828.9,913.8 832.0,896.3 836.3,924.5 839.9,973.3 843.6,1017.5 847.3,1092.7 850.9,1151.6 854.6,1208.6 858.3,1248.7 861.9,1282.9 865.6,1303.3 869.3,1317.1 873.0,1329.5 876.6,1335.1 880.3,1340.7 884.0,1342.6 887.6,1344.6 891.3,1350.5 895.0,1356.0 898.6,1359.3 902.3,1357.2 906.0,1351.5 909.6,1353.6 913.3,1360.0 917.0,1358.2 920.6,1356.7 924.3,1360.5 928.0,1361.9 931.6,1357.5 935.3,1349.3 939.0,1347.2 942.7,1348.7 946.3,1342.4 950.0,1330.2 953.7,1321.8 957.3,1315.0 961.0,1304.9 964.7,1291.6 968.3,1278.7 972.0,1258.3 975.7,1241.7 979.3,1228.3 983.0,1215.9 986.7,1206.4 990.3,1197.1 994.0,1184.8 997.7,1167.2 1001.3,1137.9 1005.0,1098.0 1008.7,1040.0 1012.4,975.5 1016.0,917.2 1019.7,846.9 1023.4,752.9 1027.0,638.7 1030.7,507.4 1034.4,420.6 1038.8,380.1 1041.7,403.5 1045.4,474.2 1049.0,583.2 1052.7,714.5 1056.4,882.5 1060.0,977.8 1063.7,1065.5 1067.4,1152.6 1071.1,1219.2 1074.7,1254.5 1078.4,1270.9 1082.1,1282.5 1085.7,1289.6 1089.4,1294.3 1093.1,1294.3 1096.7,1295.4 1100.4,1292.9 1104.1,1285.7 1107.7,1280.2 1111.4,1276.9 1115.1,1268.9 1118.7,1255.9 1122.4,1244.6 1126.1,1230.7 1129.7,1210.7 1133.4,1190.2 1137.1,1170.8 1140.8,1147.0 1144.4,1120.0 1148.1,1093.9 1151.8,1079.7 1155.4,1077.7 1159.0,1071.5 1162.8,1080.0 1166.4,1092.8 1170.1,1114.9 1173.8,1142.4 1177.4,1168.7 1181.1,1192.2 1184.8,1215.9 1188.4,1224.2 1192.1,1228.8 1195.8,1237.6 1199.4,1254.6 1203.1,1276.8 1206.8,1296.7 1210.5,1309.5 1214.1,1317.2 1217.8,1318.0 1221.5,1316.0 1225.1,1321.2 1228.8,1326.9 1232.5,1330.3 1236.1,1333.0 1239.8,1342.7 1243.5,1349.5 1247.1,1350.3 1250.8,1348.7 1254.5,1349.6 1258.1,1352.9 1261.8,1351.2 1265.5,1348.2 1269.1,1349.9 1272.8,1352.1 1276.5,1349.6 1280.2,1342.6 1283.8,1335.2 1287.5,1333.9 1291.2,1335.9 1294.8,1336.0 1298.5,1328.4 1302.2,1314.5 1305.8,1304.1 1309.5,1294.8 1313.2,1285.3 1316.8,1271.2 1320.5,1252.3 1324.2,1230.7 1327.8,1207.8 1331.5,1185.1 1335.2,1161.1 1338.9,1138.4 1342.5,1117.4 1346.2,1100.9 1349.9,1088.2 1353.5,1077.2 1357.2,1076.8 1360.9,1081.5 1364.5,1081.3 1368.2,1079.5 1371.9,1089.1 1375.5,1097.9 1379.2,1104.5 1382.9,1098.9 1386.5,1093.7 1390.2,1090.3 1393.9,1085.8 1397.5,1082.4 1401.2,1077.7 1404.9,1075.0 1408.6,1084.1 1412.2,1101.6 1415.9,1123.8 1419.6,1147.5 1423.2,1174.1 1426.9,1203.9 1430.6,1235.3 1434.2,1271.2 1437.9,1304.0 1441.6,1333.7 1445.2,1358.8 1448.9,1383.0 1452.6,1405.3 1456.2,1420.0 1459.9,1429.1 1463.6,1435.8 1467.2,1445.4 1470.9,1456.1 1474.6,1460.4 1478.3,1463.9 1481.9,1464.8 1485.6,1468.0 1489.3,1471.4 1492.9,1477.7 1496.6,1485.4 1500.3,1489.5 1503.9,1490.0 1507.6,1490.7 1511.3,1492.7 1514.9,1496.8 1518.6,1499.2 1522.3,1497.7 1525.9,1501.2 1529.6,1506.9 1533.3,1512.4 1537.0,1514.2 1540.6,1517.0 1544.3,1516.3 1548.0,1518.4 1551.6,1524.4 1555.3,1523.8 1559.0,1517.5 1562.6,1513.7 1566.3,1516.1 1570.0,1520.4 1573.6,1522.3 1577.3,1522.9 1581.0,1525.1 1584.6,1524.6 1588.3,1519.6 1592.0,1519.1 1595.6,1522.9 1599.3,1528.8 1603.0,1529.4 1606.7,1527.2 1610.3,1527.2 1614.0,1530.6 1617.7,1530.7 1621.3,1530.0 1625.0,1528.7 1628.7,1524.2 1632.3,1516.7 1636.0,1512.2 1639.7,1510.5 1643.3,1506.9 1647.0,1497.0 1650.7,1482.6 1654.3,1468.8 1658.0,1454.9 1661.7,1445.5 1665.3,1441.6 1669.0,1440.7 1671.0,1440.2 1676.4,1448.9 1680.0,1452.7 1683.7,1474.7 1687.4,1494.8 1691.0,1514.3 1694.7,1527.2 1698.4,1532.9 1702.0,1539.7 1705.7,1549.8 1709.4,1556.9 1713.0,1561.1 1716.7,1565.7 1720.4,1569.8 1724.0,1573.0 1727.7,1573.1 1731.4,1571.7 1735.0,1570.4 1738.7,1570.1 1742.4,1572.8 1746.1,1575.7 1749.7,1574.5 1753.4,1576.5 1757.1,1579.4 1760.7,1580.1 1764.4,1580.8 1768.1,1580.6 1771.7,1579.7 1775.4,1576.4 1779.1,1576.4 1782.7,1579.8 1786.4,1578.9 1790.1,1577.0 1793.7,1577.3 1797.4,1579.9 1801.1,1579.8 1804.8,1578.3 1808.4,1576.9 1812.1,1577.0 1815.8,1577.2 1819.4,1577.9 1823.1,1578.4 1826.8,1577.3 1830.4,1577.1 1834.1,1577.2 1837.8,1575.3 1841.4,1575.9 1845.1,1573.9 1848.8,1569.8 1852.4,1569.7 1856.1,1567.7 1859.8,1566.5 1863.4,1563.1 1867.1,1559.2 1870.8,1553.6 1874.5,1548.8 1878.1,1542.3 1881.8,1532.7 1885.5,1518.8 1889.1,1499.7 1892.8,1473.2 1896.5,1426.7 1900.1,1376.7 1904.5,1362.5 1907.5,1373.0 1911.1,1426.4 1914.8,1496.1 1918.5,1528.5 1922.1,1548.1 1925.8,1553.3 1929.5,1553.9 1933.1,1555.6 1936.8,1559.4 1940.5,1563.9 1944.2,1564.0 1947.8,1564.4 1951.5,1568.2 1955.2,1571.2 1958.8,1571.4 1962.5,1571.9 1966.2,1574.9 1969.8,1576.3 1973.5,1575.1 1977.2,1579.5 1980.8,1587.0 1984.5,1588.9 1988.2,1588.2 1991.8,1586.7 1995.5,1587.9 1999.2,1591.4 2002.8,1594.5 2006.5,1593.7 2010.2,1593.3 2013.9,1597.7 2017.5,1599.8 2021.2,1597.9 2024.9,1594.9 2028.5,1594.7 2032.2,1596.3 2035.9,1598.6 2039.5,1599.7 2043.2,1596.7 2046.9,1596.3 2050.5,1597.5 2054.2,1597.4 2057.9,1596.7 2061.5,1596.4 2065.2,1598.0 2068.9,1598.9 2072.6,1600.0 2076.2,1600.7 2079.9,1599.6 2083.6,1599.2 2087.2,1599.4 2090.9,1599.0 2094.6,1598.2 2098.2,1596.3 2101.9,1597.4 2105.6,1600.0 2109.2,1600.9 2112.9,1600.3 2116.6,1598.0 2120.2,1598.1 2123.9,1599.3 2127.6,1599.7 2131.2,1600.6 2134.9,1601.7 2138.6,1599.9 2142.3,1599.3 2145.9,1600.2 2149.6,1600.3 2153.3,1600.5 2156.9,1601.4 2160.6,1599.7 2164.3,1596.8 2167.9,1596.0 2171.6,1597.0 2175.3,1595.4 2178.9,1594.3 2182.6,1594.1 2186.3,1595.4 2189.9,1592.2 2193.6,1587.7 2197.3,1587.3 2200.9,1586.2 2204.6,1587.3 2208.3,1589.2 2212.0,1588.6 2215.6,1589.8 2219.3,1590.5 2223.0,1590.1 2226.6,1588.5 2230.3,1588.8 2234.0,1588.9 2237.6,1589.7 2241.3,1589.7 2245.0,1591.0 2248.6,1592.9 2252.3,1592.9 2256.0,1591.9 2259.6,1592.1 2263.3,1592.1 2267.0,1593.4 2270.7,1594.1 2274.3,1591.0 2278.0,1590.1 2281.7,1592.0 2285.3,1593.1 2289.0,1595.3 2292.7,1595.9 2296.3,1594.9 2300.0,1593.3 2303.7,1591.7 2307.3,1590.8 2311.0,1591.3 2314.7,1591.7 2318.3,1591.9 2322.0,1594.0 2325.7,1593.0 2329.3,1588.6 2333.0,1587.3 2336.7,1590.3 2340.4,1587.8 2344.0,1584.3 2347.7,1586.2 2351.4,1590.9 2355.0,1593.9 2358.7,1594.5 2362.4,1595.3 2366.0,1596.0 2369.7,1594.2 2371.5,1590.0"/>
<polyline stroke="#008000" points="168.6,1620.5 172.3,1618.8 175.9,1617.4 179.6,1619.5 183.3,1621.0 186.9,1620.9 190.6,1620.7 194.3,1622.1 197.9,1620.2 201.6,1620.4 205.3,1620.4 209.0,1620.3 212.6,1621.1 216.3,1619.4 220.0,1617.0 223.6,1618.6 227.3,1622.7 231.0,1624.2 234.6,1621.6 238.3,1622.5 242.0,1624.9 245.6,1624.2 249.3,1621.9 253.0,1619.8 256.6,1619.4 260.3,1620.9 264.0,1621.1 267.6,1619.4 271.3,1620.5 275.0,1623.2 278.7,1623.5 282.3,1623.0 286.0,1623.2 289.7,1624.1 293.3,1626.9 297.0,1629.2 300.7,1629.5 304.3,1628.0 308.0,1627.6 311.7,1628.7 315.3,1629.3 319.0,1628.8 322.7,1627.0 326.3,1623.7 330.0,1622.6 333.7,1624.6 337.4,1624.6 341.0,1623.5 344.7,1622.1 348.4,1622.6 352.0,1625.2 355.7,1624.6 359.4,1622.7 363.0,1623.5 366.7,1624.2 370.4,1625.2 374.0,1625.9 377.7,1622.8 381.4,1620.2 385.0,1620.4 388.7,1620.6 392.4,1621.3 396.0,1621.2 399.7,1620.3 403.4,1619.3 407.1,1619.2 410.7,1618.6 414.4,1618.5 418.1,1617.0 421.7,1615.8 425.4,1616.3 429.1,1616.4 432.7,1617.5 436.4,1616.8 440.1,1615.4 443.7,1613.8 447.4,1611.3 451.1,1609.2 454.7,1610.8 458.4,1610.2 462.1,1609.6 465.7,1607.3 469.4,1605.5 473.1,1603.2 476.8,1599.9 480.4,1596.9 484.1,1587.5 487.8,1569.5 491.4,1543.7 495.7,1529.8 498.8,1537.9 502.4,1563.0 506.1,1585.9 509.8,1596.1 513.4,1597.6 517.1,1600.4 520.8,1600.5 524.4,1600.1 528.1,1600.9 531.8,1600.2 535.4,1597.7 539.1,1594.1 542.8,1592.0 546.5,1590.9 550.1,1592.3 553.8,1593.2 557.5,1593.3 561.1,1591.6 564.8,1590.9 568.5,1591.2 572.1,1586.6 575.8,1583.4 579.5,1583.9 583.1,1584.6 586.8,1582.7 590.5,1580.4 594.1,1579.8 597.8,1580.8 601.5,1577.6 605.2,1574.7 608.8,1574.0 612.5,1572.8 616.2,1573.2 619.8,1573.6 623.5,1570.6 627.2,1568.2 630.8,1566.6 634.5,1566.1 638.2,1566.3 641.8,1564.3 645.5,1560.4 649.2,1557.6 652.8,1557.7 656.5,1557.7 660.2,1554.7 663.8,1550.5 667.5,1547.1 671.2,1546.8 674.9,1542.2 678.5,1539.2 682.2,1539.3 685.9,1539.0 689.5,1536.8 693.2,1533.6 696.9,1531.5 700.5,1528.3 704.2,1524.8 707.9,1524.6 711.5,1523.8 715.2,1523.2 718.9,1521.7 722.5,1520.9 726.2,1518.8 729.9,1516.3 733.5,1513.1 737.2,1507.6 740.9,1501.9 744.6,1496.1 748.2,1487.1 751.9,1480.2 755.6,1473.4 759.2,1463.7 762.9,1453.1 766.6,1440.0 770.2,1426.8 773.9,1413.4 777.6,1397.5 781.2,1378.6 784.9,1355.3 788.6,1330.5 792.2,1305.0 795.9,1275.6 799.6,1245.3 803.3,1231.3 806.9,1223.9 810.6,1210.8 814.3,1189.8 817.9,1143.2 821.6,1105.8 825.3,1058.8 828.9,1000.2 832.0,979.3 836.3,1016.9 839.9,1079.1 843.6,1115.0 847.3,1157.6 850.9,1211.0 854.6,1272.4 858.3,1293.0 861.9,1313.8 865.6,1328.9 869.3,1338.1 873.0,1345.1 876.6,1354.1 880.3,1363.8 884.0,1366.9 887.6,1370.6 891.3,1371.6 895.0,1372.2 898.6,1373.1 902.3,1380.0 906.0,1387.4 909.6,1384.2 913.3,1379.6 917.0,1378.2 920.6,1382.4 924.3,1380.6 928.0,1370.2 931.6,1371.6 935.3,1381.8 939.0,1380.0 942.7,1375.9 946.3,1375.4 950.0,1372.2 953.7,1364.5 957.3,1356.5 961.0,1348.5 964.7,1333.9 968.3,1317.8 972.0,1302.6 975.7,1285.5 979.3,1266.7 983.0,1259.1 986.7,1254.5 990.3,1244.0 994.0,1241.5 997.7,1238.4 1001.3,1223.6 1005.0,1199.0 1008.7,1152.6 1012.4,1095.7 1016.0,1043.0 1019.7,984.7 1023.4,914.5 1027.0,831.8 1030.7,748.2 1034.4,698.8 1038.8,676.4 1041.7,688.1 1045.4,733.3 1049.0,814.0 1052.7,905.6 1056.4,997.4 1060.0,1078.3 1063.7,1154.7 1067.4,1225.7 1071.1,1279.9 1074.7,1311.8 1078.4,1327.1 1082.1,1335.4 1085.7,1337.5 1089.4,1345.9 1093.1,1350.0 1096.7,1339.9 1100.4,1331.9 1104.1,1330.3 1107.7,1326.5 1111.4,1320.3 1115.1,1312.7 1118.7,1303.5 1122.4,1292.8 1126.1,1277.0 1129.7,1261.8 1133.4,1248.4 1137.1,1232.7 1140.8,1213.3 1144.4,1188.3 1148.1,1160.9 1151.8,1148.0 1155.4,1142.1 1159.0,1139.0 1162.8,1147.4 1166.4,1164.4 1170.1,1180.8 1173.8,1206.3 1177.4,1229.3 1181.1,1248.6 1184.8,1269.2 1188.4,1284.5 1192.1,1298.9 1195.8,1314.9 1199.4,1328.5 1203.1,1337.8 1206.8,1346.2 1210.5,1353.5 1214.1,1355.4 1217.8,1356.9 1221.5,1356.7 1225.1,1356.8 1228.8,1364.6 1232.5,1370.7 1236.1,1369.0 1239.8,1375.1 1243.5,1374.7 1247.1,1371.0 1250.8,1375.6 1254.5,1380.1 1258.1,1376.6 1261.8,1378.3 1265.5,1378.0 1269.1,1373.1 1272.8,1373.9 1276.5,1369.6 1280.2,1363.8 1283.8,1362.4 1287.5,1357.9 1291.2,1352.8 1294.8,1350.2 1298.5,1350.3 1302.2,1345.4 1305.8,1338.2 1309.5,1329.6 1313.2,1320.5 1316.8,1311.7 1320.5,1297.9 1324.2,1278.5 1327.8,1260.2 1331.5,1239.9 1335.2,1217.7 1338.9,1197.5 1342.5,1178.4 1346.2,1159.1 1349.9,1151.7 1353.5,1151.9 1357.2,1145.0 1360.9,1140.2 1364.5,1143.1 1368.2,1150.0 1371.9,1155.9 1375.5,1153.0 1379.2,1145.6 1382.9,1145.0 1386.5,1145.9 1390.2,1142.4 1393.9,1145.3 1397.5,1148.9 1401.2,1142.5 1404.9,1144.7 1408.6,1154.3 1412.2,1172.5 1415.9,1200.0 1419.6,1228.2 1423.2,1261.8 1426.9,1294.2 1430.6,1317.5 1434.2,1336.6 1437.9,1355.4 1441.6,1376.2 1445.2,1394.7 1448.9,1409.9 1452.6,1421.4 1456.2,1429.7 1459.9,1440.1 1463.6,1446.2 1467.2,1449.9 1470.9,1453.6 1474.6,1459.5 1478.3,1463.2 1481.9,1465.3 1485.6,1470.3 1489.3,1475.0 1492.9,1478.1 1496.6,1481.1 1500.3,1482.7 1503.9,1487.5 1507.6,1490.5 1511.3,1492.2 1514.9,1493.3 1518.6,1499.1 1522.3,1504.9 1525.9,1508.9 1529.6,1511.4 1533.3,1516.2 1537.0,1518.6 1540.6,1523.3 1544.3,1525.2 1548.0,1526.4 1551.6,1529.5 1555.3,1525.5 1559.0,1524.0 1562.6,1525.4 1566.3,1527.2 1570.0,1529.1 1573.6,1531.4 1577.3,1531.2 1581.0,1528.2 1584.6,1525.3 1588.3,1526.7 1592.0,1530.6 1595.6,1532.1 1599.3,1532.9 1603.0,1530.4 1606.7,1530.7 1610.3,1532.5 1614.0,1535.1 1617.7,1534.1 1621.3,1537.6 1625.0,1541.3 1628.7,1539.1 1632.3,1534.8 1636.0,1531.4 1639.7,1529.3 1643.3,1528.0 1647.0,1523.5 1650.7,1513.7 1654.3,1502.9 1658.0,1491.6 1661.7,1486.9 1665.3,1481.9 1669.0,1479.0 1671.0,1482.5 1676.4,1488.2 1680.0,1491.4 1683.7,1508.8 1687.4,1523.8 1691.0,1535.8 1694.7,1544.0 1698.4,1550.2 1702.0,1558.4 1705.7,1564.2 1709.4,1568.5 1713.0,1570.5 1716.7,1572.1 1720.4,1575.1 1724.0,1575.7 1727.7,1576.5 1731.4,1578.6 1735.0,1578.5 1738.7,1578.4 1742.4,1579.9 1746.1,1579.1 1749.7,1579.9 1753.4,1582.0 1757.1,1583.4 1760.7,1584.4 1764.4,1584.1 1768.1,1581.0 1771.7,1580.2 1775.4,1583.5 1779.1,1583.7 1782.7,1581.3 1786.4,1580.7 1790.1,1578.8 1793.7,1578.4 1797.4,1582.0 1801.1,1583.4 1804.8,1584.5 1808.4,1587.1 1812.1,1586.5 1815.8,1582.5 1819.4,1579.7 1823.1,1579.5 1826.8,1582.1 1830.4,1583.4 1834.1,1583.6 1837.8,1582.0 1841.4,1579.5 1845.1,1577.5 1848.8,1576.8 1852.4,1578.5 1856.1,1577.2 1859.8,1575.6 1863.4,1572.9 1867.1,1570.7 1870.8,1567.5 1874.5,1561.7 1878.1,1556.8 1881.8,1551.6 1885.5,1541.7 1889.1,1530.8 1892.8,1516.3 1896.5,1494.8 1900.1,1476.0 1904.5,1466.1 1907.5,1473.7 1911.1,1503.6 1914.8,1543.6 1918.5,1559.3 1922.1,1565.4 1925.8,1567.6 1929.5,1570.3 1933.1,1570.9 1936.8,1572.0 1940.5,1573.5 1944.2,1572.6 1947.8,1570.4 1951.5,1571.7 1955.2,1571.7 1958.8,1572.1 1962.5,1574.9 1966.2,1574.9 1969.8,1575.4 1973.5,1576.6 1977.2,1582.8 1980.8,1588.6 1984.5,1591.0 1988.2,1591.4 1991.8,1591.4 1995.5,1593.5 1999.2,1596.7 2002.8,1596.3 2006.5,1597.6 2010.2,1598.9 2013.9,1595.0 2017.5,1593.3 2021.2,1595.5 2024.9,1597.3 2028.5,1597.9 2032.2,1599.6 2035.9,1599.8 2039.5,1599.2 2043.2,1600.3 2046.9,1600.9 2050.5,1603.4 2054.2,1605.8 2057.9,1607.9 2061.5,1606.6 2065.2,1604.6 2068.9,1604.5 2072.6,1603.8 2076.2,1602.0 2079.9,1602.1 2083.6,1605.7 2087.2,1606.7 2090.9,1604.2 2094.6,1603.1 2098.2,1603.8 2101.9,1606.0 2105.6,1605.9 2109.2,1603.3 2112.9,1602.5 2116.6,1603.0 2120.2,1604.5 2123.9,1606.0 2127.6,1606.0 2131.2,1603.7 2134.9,1602.7 2138.6,1604.4 2142.3,1604.8 2145.9,1603.7 2149.6,1603.9 2153.3,1604.6 2156.9,1604.8 2160.6,1603.9 2164.3,1603.5 2167.9,1602.2 2171.6,1601.1 2175.3,1602.1 2178.9,1601.9 2182.6,1600.4 2186.3,1596.6 2189.9,1595.0 2193.6,1594.3 2197.3,1591.9 2200.9,1592.2 2204.6,1592.8 2208.3,1593.9 2212.0,1594.4 2215.6,1593.7 2219.3,1596.0 2223.0,1598.2 2226.6,1599.9 2230.3,1600.3 2234.0,1598.7 2237.6,1596.3 2241.3,1593.2 2245.0,1595.7 2248.6,1598.3 2252.3,1598.0 2256.0,1596.4 2259.6,1595.0 2263.3,1594.8 2267.0,1595.8 2270.7,1597.0 2274.3,1597.1 2278.0,1595.5 2281.7,1595.4 2285.3,1597.5 2289.0,1594.3 2292.7,1592.6 2296.3,1597.5 2300.0,1599.3 2303.7,1598.4 2307.3,1598.6 2311.0,1597.3 2314.7,1595.5 2318.3,1595.1 2322.0,1593.9 2325.7,1593.8 2329.3,1594.6 2333.0,1596.7 2336.7,1597.7 2340.4,1596.2 2344.0,1594.9 2347.7,1592.1 2351.4,1593.2 2355.0,1596.7 2358.7,1598.6 2362.4,1598.8 2366.0,1597.0 2369.7,1593.2 2371.5,1591.5"/>
<polyline stroke="#000080" points="168.6,1617.7 172.3,1618.8 175.9,1618.9 179.6,1617.3 183.3,1616.3 186.9,1618.2 190.6,1619.3 194.3,1618.6 197.9,1617.6 201.6,1617.7 205.3,1619.6 209.0,1621.9 212.6,1620.5 216.3,1618.9 220.0,1620.5 223.6,1622.1 227.3,1624.0 231.0,1622.3 234.6,1621.5 238.3,1622.0 242.0,1622.3 245.6,1622.2 249.3,1621.9 253.0,1621.4 256.6,1621.0 260.3,1620.6 264.0,1620.1 267.6,1620.5 271.3,1620.9 275.0,1621.3 278.7,1621.7 282.3,1622.6 286.0,1623.2 289.7,1622.9 293.3,1623.1 297.0,1623.2 300.7,1622.7 304.3,1622.7 308.0,1622.3 311.7,1621.2 315.3,1622.3 319.0,1620.3 322.7,1617.8 326.3,1620.6 330.0,1621.9 333.7,1622.9 337.4,1622.0 341.0,1622.5 344.7,1623.2 348.4,1621.7 352.0,1621.1 355.7,1623.0 359.4,1625.4 363.0,1626.0 366.7,1625.5 370.4,1624.2 374.0,1623.8 377.7,1623.9 381.4,1622.5 385.0,1621.0 388.7,1621.2 392.4,1619.9 396.0,1619.0 399.7,1619.7 403.4,1620.2 407.1,1620.8 410.7,1619.8 414.4,1618.3 418.1,1617.7 421.7,1617.0 425.4,1617.6 429.1,1618.9 432.7,1617.7 436.4,1615.6 440.1,1614.3 443.7,1613.3 447.4,1612.2 451.1,1611.0 454.7,1611.8 458.4,1611.5 462.1,1611.6 465.7,1610.8 469.4,1607.7 473.1,1603.4 476.8,1601.0 480.4,1600.3 484.1,1595.5 487.8,1586.9 491.4,1578.4 495.7,1576.8 498.8,1582.5 502.4,1594.2 506.1,1601.3 509.8,1603.8 513.4,1602.7 517.1,1601.0 520.8,1598.5 524.4,1598.2 528.1,1602.3 531.8,1602.8 535.4,1600.7 539.1,1599.5 542.8,1597.6 546.5,1599.1 550.1,1599.3 553.8,1597.6 557.5,1594.5 561.1,1596.0 564.8,1596.1 568.5,1593.3 572.1,1590.9 575.8,1590.9 579.5,1589.8 583.1,1586.7 586.8,1583.7 590.5,1582.8 594.1,1584.0 597.8,1586.3 601.5,1586.9 605.2,1585.8 608.8,1581.4 612.5,1576.4 616.2,1574.6 619.8,1574.1 623.5,1575.6 627.2,1577.0 630.8,1574.5 634.5,1572.8 638.2,1573.6 641.8,1574.0 645.5,1572.2 649.2,1568.0 652.8,1565.9 656.5,1566.5 660.2,1567.2 663.8,1565.0 667.5,1563.0 671.2,1563.7 674.9,1560.1 678.5,1557.2 682.2,1555.2 685.9,1553.0 689.5,1552.6 693.2,1552.3 696.9,1551.5 700.5,1549.5 704.2,1546.0 707.9,1544.5 711.5,1545.2 715.2,1543.4 718.9,1542.3 722.5,1541.4 726.2,1540.0 729.9,1532.0 733.5,1524.5 737.2,1523.8 740.9,1525.2 744.6,1523.9 748.2,1519.0 751.9,1512.8 755.6,1506.7 759.2,1497.6 762.9,1490.7 766.6,1485.3 770.2,1480.6 773.9,1472.8 777.6,1461.1 781.2,1448.3 784.9,1432.9 788.6,1416.2 792.2,1399.3 795.9,1379.9 799.6,1355.0 803.3,1331.9 806.9,1308.0 810.6,1276.3 814.3,1246.9 817.9,1225.6 821.6,1197.3 825.3,1159.3 828.9,1141.2 832.0,1135.5 836.3,1148.3 839.9,1192.8 843.6,1233.4 847.3,1265.9 850.9,1300.1 854.6,1338.7 858.3,1363.4 861.9,1379.0 865.6,1390.1 869.3,1399.7 873.0,1407.4 876.6,1407.1 880.3,1406.2 884.0,1400.9 887.6,1403.5 891.3,1415.4 895.0,1421.0 898.6,1424.3 902.3,1426.7 906.0,1431.1 909.6,1431.7 913.3,1428.0 917.0,1421.7 920.6,1422.5 924.3,1422.5 928.0,1419.3 931.6,1416.2 935.3,1411.4 939.0,1410.0 942.7,1412.5 946.3,1413.6 950.0,1413.2 953.7,1414.9 957.3,1417.6 961.0,1414.4 964.7,1402.0 968.3,1389.3 972.0,1375.4 975.7,1364.4 979.3,1359.7 983.0,1355.7 986.7,1355.4 990.3,1354.0 994.0,1344.0 997.7,1337.0 1001.3,1334.5 1005.0,1313.5 1008.7,1285.6 1012.4,1257.0 1016.0,1231.7 1019.7,1207.9 1023.4,1162.9 1027.0,1116.5 1030.7,1073.7 1034.4,1020.3 1038.8,980.7 1041.7,1012.1 1045.4,1064.1 1049.0,1118.6 1052.7,1166.3 1056.4,1227.3 1060.0,1293.5 1063.7,1323.6 1067.4,1348.0 1071.1,1375.9 1074.7,1394.5 1078.4,1401.8 1082.1,1402.4 1085.7,1404.1 1089.4,1398.7 1093.1,1390.8 1096.7,1387.4 1100.4,1396.3 1104.1,1398.2 1107.7,1391.0 1111.4,1380.8 1115.1,1374.3 1118.7,1369.4 1122.4,1366.1 1126.1,1359.8 1129.7,1348.3 1133.4,1330.8 1137.1,1312.8 1140.8,1301.4 1144.4,1293.1 1148.1,1285.8 1151.8,1276.2 1155.4,1264.2 1159.0,1257.0 1162.8,1265.1 1166.4,1274.1 1170.1,1289.9 1173.8,1306.3 1177.4,1328.8 1181.1,1349.7 1184.8,1356.2 1188.4,1358.7 1192.1,1365.5 1195.8,1375.6 1199.4,1386.3 1203.1,1396.1 1206.8,1401.8 1210.5,1399.1 1214.1,1403.0 1217.8,1407.2 1221.5,1409.5 1225.1,1416.8 1228.8,1419.8 1232.5,1411.8 1236.1,1406.2 1239.8,1408.6 1243.5,1416.8 1247.1,1419.5 1250.8,1416.9 1254.5,1414.8 1258.1,1414.3 1261.8,1410.7 1265.5,1412.2 1269.1,1413.3 1272.8,1414.6 1276.5,1415.3 1280.2,1408.7 1283.8,1404.5 1287.5,1403.6 1291.2,1402.6 1294.8,1399.1 1298.5,1397.8 1302.2,1399.0 1305.8,1395.8 1309.5,1388.9 1313.2,1382.5 1316.8,1368.7 1320.5,1353.1 1324.2,1341.1 1327.8,1330.7 1331.5,1314.8 1335.2,1302.5 1338.9,1288.2 1342.5,1271.5 1346.2,1261.2 1349.9,1249.7 1353.5,1235.4 1357.2,1226.3 1360.9,1234.0 1364.5,1241.8 1368.2,1236.8 1371.9,1236.3 1375.5,1238.8 1379.2,1244.4 1382.9,1247.9 1386.5,1240.7 1390.2,1232.5 1393.9,1227.2 1397.5,1224.1 1401.2,1227.4 1404.9,1233.7 1408.6,1245.4 1412.2,1261.4 1415.9,1280.3 1419.6,1300.2 1423.2,1321.2 1426.9,1341.1 1430.6,1360.0 1434.2,1376.5 1437.9,1393.9 1441.6,1409.9 1445.2,1420.4 1448.9,1430.5 1452.6,1439.9 1456.2,1447.0 1459.9,1455.2 1463.6,1460.2 1467.2,1461.4 1470.9,1462.6 1474.6,1467.9 1478.3,1473.2 1481.9,1479.8 1485.6,1482.6 1489.3,1482.8 1492.9,1483.1 1496.6,1483.5 1500.3,1487.7 1503.9,1490.2 1507.6,1492.9 1511.3,1494.9 1514.9,1503.1 1518.6,1511.7 1522.3,1512.6 1525.9,1513.1 1529.6,1518.9 1533.3,1529.7 1537.0,1532.5 1540.6,1529.6 1544.3,1525.7 1548.0,1530.5 1551.6,1533.2 1555.3,1532.6 1559.0,1530.8 1562.6,1534.0 1566.3,1538.1 1570.0,1539.5 1573.6,1536.3 1577.3,1532.3 1581.0,1533.0 1584.6,1539.3 1588.3,1545.6 1592.0,1548.4 1595.6,1547.4 1599.3,1544.3 1603.0,1545.2 1606.7,1547.7 1610.3,1548.1 1614.0,1548.2 1617.7,1550.6 1621.3,1555.3 1625.0,1552.9 1628.7,1549.5 1632.3,1551.1 1636.0,1550.6 1639.7,1546.3 1643.3,1543.1 1647.0,1539.8 1650.7,1535.4 1654.3,1528.1 1658.0,1521.3 1661.7,1518.5 1665.3,1514.8 1669.0,1516.1 1671.0,1520.3 1676.4,1523.4 1680.0,1529.8 1683.7,1542.0 1687.4,1551.7 1691.0,1556.2 1694.7,1561.0 1698.4,1566.0 1702.0,1569.5 1705.7,1573.4 1709.4,1578.8 1713.0,1582.2 1716.7,1583.7 1720.4,1582.1 1724.0,1581.8 1727.7,1583.5 1731.4,1584.7 1735.0,1584.0 1738.7,1582.7 1742.4,1585.1 1746.1,1587.6 1749.7,1588.3 1753.4,1587.9 1757.1,1589.1 1760.7,1591.4 1764.4,1591.7 1768.1,1589.8 1771.7,1588.9 1775.4,1589.4 1779.1,1590.3 1782.7,1589.9 1786.4,1590.2 1790.1,1590.8 1793.7,1588.4 1797.4,1587.5 1801.1,1590.4 1804.8,1593.6 1808.4,1592.0 1812.1,1589.7 1815.8,1591.9 1819.4,1592.6 1823.1,1591.3 1826.8,1589.0 1830.4,1589.2 1834.1,1590.2 1837.8,1590.1 1841.4,1587.0 1845.1,1584.1 1848.8,1583.4 1852.4,1584.8 1856.1,1584.0 1859.8,1583.3 1863.4,1581.6 1867.1,1579.5 1870.8,1576.8 1874.5,1575.3 1878.1,1572.0 1881.8,1569.2 1885.5,1567.1 1889.1,1562.5 1892.8,1558.9 1896.5,1552.7 1900.1,1544.8 1904.5,1539.2 1907.5,1548.1 1911.1,1570.9 1914.8,1580.7 1918.5,1584.2 1922.1,1583.1 1925.8,1581.3 1929.5,1579.6 1933.1,1579.9 1936.8,1582.6 1940.5,1586.9 1944.2,1589.3 1947.8,1588.0 1951.5,1588.8 1955.2,1587.6 1958.8,1585.4 1962.5,1584.6 1966.2,1588.5 1969.8,1593.8 1973.5,1600.4 1977.2,1603.9 1980.8,1604.6 1984.5,1606.7 1988.2,1607.0 1991.8,1605.8 1995.5,1606.6 1999.2,1606.9 2002.8,1604.6 2006.5,1605.1 2010.2,1608.1 2013.9,1608.6 2017.5,1606.8 2021.2,1606.8 2024.9,1609.6 2028.5,1610.9 2032.2,1609.1 2035.9,1608.9 2039.5,1611.4 2043.2,1611.1 2046.9,1608.2 2050.5,1607.8 2054.2,1609.7 2057.9,1611.8 2061.5,1611.7 2065.2,1609.5 2068.9,1608.9 2072.6,1612.0 2076.2,1611.6 2079.9,1613.2 2083.6,1613.8 2087.2,1612.3 2090.9,1610.5 2094.6,1608.5 2098.2,1607.5 2101.9,1607.6 2105.6,1608.3 2109.2,1609.6 2112.9,1611.0 2116.6,1615.1 2120.2,1615.7 2123.9,1610.5 2127.6,1610.4 2131.2,1613.4 2134.9,1613.9 2138.6,1613.0 2142.3,1613.1 2145.9,1613.3 2149.6,1613.0 2153.3,1614.4 2156.9,1615.9 2160.6,1616.6 2164.3,1616.2 2167.9,1614.2 2171.6,1611.9 2175.3,1609.6 2178.9,1609.8 2182.6,1611.0 2186.3,1614.1 2189.9,1614.9 2193.6,1612.0 2197.3,1610.3 2200.9,1610.0 2204.6,1609.9 2208.3,1608.6 2212.0,1606.6 2215.6,1605.3 2219.3,1606.7 2223.0,1605.7 2226.6,1603.2 2230.3,1602.8 2234.0,1603.8 2237.6,1601.9 2241.3,1599.9 2245.0,1600.9 2248.6,1602.8 2252.3,1605.5 2256.0,1603.7 2259.6,1600.6 2263.3,1599.9 2267.0,1603.5 2270.7,1604.4 2274.3,1603.2 2278.0,1602.7 2281.7,1603.6 2285.3,1604.3 2289.0,1603.4 2292.7,1602.3 2296.3,1601.3 2300.0,1599.1 2303.7,1600.0 2307.3,1601.2 2311.0,1601.3 2314.7,1602.5 2318.3,1603.6 2322.0,1602.1 2325.7,1600.9 2329.3,1603.0 2333.0,1605.2 2336.7,1605.6 2340.4,1605.4 2344.0,1604.9 2347.7,1601.6 2351.4,1598.3 2355.0,1599.4 2358.7,1600.6 2362.4,1602.7 2366.0,1603.6 2369.7,1603.0 2371.5,1603.1"/>
</g>
<g id="peak-guides-front" stroke="#000" stroke-width="4" stroke-dasharray="10 8" fill="none">
<line x1="496.0" y1="37" x2="496.0" y2="1675.6"/>
<line x1="831.8" y1="37" x2="831.8" y2="1675.6"/>
<line x1="1037.8" y1="37" x2="1037.8" y2="1675.6"/>
<line x1="1157.5" y1="37" x2="1157.5" y2="1675.6"/>
<line x1="1361.8" y1="37" x2="1361.8" y2="1675.6"/>
<line x1="1397.8" y1="37" x2="1397.8" y2="1675.6"/>
</g>
<rect x="1150" y="224" width="16" height="87" fill="#fff"/>
<rect id="frame" x="168.6" y="36.35" width="2202.90" height="1639.25" fill="none" stroke="#000" stroke-width="6.9"/>
<g id="ticks" stroke="#000" stroke-width="6.9" stroke-linecap="round">
<line x1="221.00" y1="1675.6" x2="221.00" y2="1707.3"/>
<line x1="294.37" y1="1675.6" x2="294.37" y2="1691.8"/>
<line x1="367.74" y1="1675.6" x2="367.74" y2="1707.3"/>
<line x1="441.11" y1="1675.6" x2="441.11" y2="1691.8"/>
<line x1="514.48" y1="1675.6" x2="514.48" y2="1707.3"/>
<line x1="587.85" y1="1675.6" x2="587.85" y2="1691.8"/>
<line x1="661.22" y1="1675.6" x2="661.22" y2="1707.3"/>
<line x1="734.59" y1="1675.6" x2="734.59" y2="1691.8"/>
<line x1="807.96" y1="1675.6" x2="807.96" y2="1707.3"/>
<line x1="881.33" y1="1675.6" x2="881.33" y2="1691.8"/>
<line x1="954.70" y1="1675.6" x2="954.70" y2="1707.3"/>
<line x1="1028.07" y1="1675.6" x2="1028.07" y2="1691.8"/>
<line x1="1101.44" y1="1675.6" x2="1101.44" y2="1707.3"/>
<line x1="1174.81" y1="1675.6" x2="1174.81" y2="1691.8"/>
<line x1="1248.18" y1="1675.6" x2="1248.18" y2="1707.3"/>
<line x1="1321.55" y1="1675.6" x2="1321.55" y2="1691.8"/>
<line x1="1394.92" y1="1675.6" x2="1394.92" y2="1707.3"/>
<line x1="1468.29" y1="1675.6" x2="1468.29" y2="1691.8"/>
<line x1="1541.66" y1="1675.6" x2="1541.66" y2="1707.3"/>
<line x1="1615.03" y1="1675.6" x2="1615.03" y2="1691.8"/>
<line x1="1688.40" y1="1675.6" x2="1688.40" y2="1707.3"/>
<line x1="1761.77" y1="1675.6" x2="1761.77" y2="1691.8"/>
<line x1="1835.14" y1="1675.6" x2="1835.14" y2="1707.3"/>
<line x1="1908.51" y1="1675.6" x2="1908.51" y2="1691.8"/>
<line x1="1981.88" y1="1675.6" x2="1981.88" y2="1707.3"/>
<line x1="2055.25" y1="1675.6" x2="2055.25" y2="1691.8"/>
<line x1="2128.62" y1="1675.6" x2="2128.62" y2="1707.3"/>
<line x1="2201.99" y1="1675.6" x2="2201.99" y2="1691.8"/>
<line x1="2275.36" y1="1675.6" x2="2275.36" y2="1707.3"/>
<line x1="2348.73" y1="1675.6" x2="2348.73" y2="1691.8"/>
</g>
<g id="labels" stroke="#000" stroke-width="1.0" stroke-linejoin="round">
<text transform="translate(287.40 153.80) scale(0.9323 1)" font-size="94">9.41</text>
<text transform="translate(572.84 153.80) scale(0.9577 1)" font-size="94">14.3</text>
<text transform="translate(831.13 153.80) scale(0.9459 1)" font-size="94">17.1</text>
<text transform="translate(1173.05 147.80) scale(0.9621 1)" font-size="94">21.2</text>
<text transform="translate(1452.85 147.80) scale(0.9382 1)" font-size="94">25.6</text>
<text transform="translate(1694.71 147.80) scale(0.9215 1)" font-size="94">28.64</text>
<text transform="translate(1063.90 299.70) scale(0.9748 1)" font-size="94">18.7</text>
<text transform="translate(1245.18 299.70) scale(0.9293 1)" font-size="94">22.1</text>
<text transform="translate(202.38 1777.90) scale(0.9550 1)" font-size="74.5">6</text>
<text transform="translate(350.07 1777.90) scale(0.9550 1)" font-size="74.5">8</text>
<text transform="translate(477.12 1777.90) scale(0.9550 1)" font-size="74.5">10</text>
<text transform="translate(624.33 1777.90) scale(0.9550 1)" font-size="74.5">12</text>
<text transform="translate(769.64 1777.90) scale(0.9550 1)" font-size="74.5">14</text>
<text transform="translate(916.86 1777.90) scale(0.9550 1)" font-size="74.5">16</text>
<text transform="translate(1064.08 1777.90) scale(0.9550 1)" font-size="74.5">18</text>
<text transform="translate(1212.25 1777.90) scale(0.9550 1)" font-size="74.5">20</text>
<text transform="translate(1359.47 1777.90) scale(0.9550 1)" font-size="74.5">22</text>
<text transform="translate(1504.77 1777.90) scale(0.9550 1)" font-size="74.5">24</text>
<text transform="translate(1651.99 1777.90) scale(0.9550 1)" font-size="74.5">26</text>
<text transform="translate(1799.21 1777.90) scale(0.9550 1)" font-size="74.5">28</text>
<text transform="translate(1945.95 1777.90) scale(0.9550 1)" font-size="74.5">30</text>
<text transform="translate(2093.17 1777.90) scale(0.9550 1)" font-size="74.5">32</text>
<text transform="translate(2238.47 1777.90) scale(0.9550 1)" font-size="74.5">34</text>
</g>
<rect id="legend-box" x="1532" y="309.1" width="818" height="563.9" fill="#fff" stroke="#000" stroke-width="4.3"/>
<line x1="1550.3" y1="355.0" x2="1721.5" y2="355.0" stroke="#000000" stroke-width="9" stroke-linecap="round"/>
<line x1="1549.7" y1="449.4" x2="1722.1" y2="449.4" stroke="#ff0000" stroke-width="7.8" stroke-linecap="round"/>
<line x1="1549.7" y1="544.5" x2="1722.1" y2="544.5" stroke="#0000ff" stroke-width="7.8" stroke-linecap="round"/>
<line x1="1549.7" y1="639.7" x2="1722.1" y2="639.7" stroke="#ff00ff" stroke-width="7.8" stroke-linecap="round"/>
<line x1="1549.7" y1="734.8" x2="1722.1" y2="734.8" stroke="#008000" stroke-width="7.8" stroke-linecap="round"/>
<line x1="1549.7" y1="829.5" x2="1722.1" y2="829.5" stroke="#000080" stroke-width="7.8" stroke-linecap="round"/>
<g id="legend-labels" stroke="#000" stroke-width="1.0" stroke-linejoin="round" font-size="90">
<text transform="translate(1754.30 387.40) scale(1.03 1)"><tspan x="0" letter-spacing="1.281">bioPP</tspan></text>
<text transform="translate(1754.30 480.40) scale(1.03 1)"><tspan x="0" letter-spacing="1.281">bioPP</tspan><tspan x="224.18" dy="18.0" font-size="118" letter-spacing="0">/</tspan><tspan x="267.87" dy="-18.0" letter-spacing="-1.632">2.5MAS</tspan></text>
<text transform="translate(1754.30 573.40) scale(1.03 1)"><tspan x="0" letter-spacing="1.281">bioPP</tspan><tspan x="224.18" dy="18.0" font-size="118" letter-spacing="0">/</tspan><tspan x="264.32" dy="-18.0" letter-spacing="0.123">5MAS</tspan></text>
<text transform="translate(1754.30 666.40) scale(1.03 1)"><tspan x="0" letter-spacing="1.281">bioPP</tspan><tspan x="224.18" dy="18.0" font-size="118" letter-spacing="0">/</tspan><tspan x="266.88" dy="-18.0" letter-spacing="-1.410">10MAS</tspan></text>
<text transform="translate(1754.30 759.50) scale(1.03 1)"><tspan x="0" letter-spacing="1.281">bioPP</tspan><tspan x="224.18" dy="18.0" font-size="118" letter-spacing="0">/</tspan><tspan x="267.87" dy="-18.0" letter-spacing="-1.609">20MAS</tspan></text>
<text transform="translate(1754.30 857.40) scale(1.03 1)"><tspan x="0" letter-spacing="1.281">bioPP</tspan><tspan x="224.18" dy="18.0" font-size="118" letter-spacing="0">/</tspan><tspan x="267.64" dy="-18.0" letter-spacing="-1.551">40MAS</tspan></text>
</g>
<g id="axis-titles" stroke="#000" stroke-width="1.0" stroke-linejoin="round">
<text transform="translate(884.70 1916.00) scale(1.03 1)" font-size="91"><tspan x="-6.00" letter-spacing="1.179">Scattering </tspan><tspan x="391.17" letter-spacing="1.791">angle </tspan><tspan x="617.84" letter-spacing="-5.490">(2θ)</tspan></text>
<text transform="translate(81.00 1128.40) rotate(-90) scale(1.03 1)" font-size="91"><tspan x="-3.00" letter-spacing="0.748">Intensity </tspan><tspan x="347.26" letter-spacing="-1.016">(a.u.)</tspan></text>
</g>
</svg>
</body>
</html>
